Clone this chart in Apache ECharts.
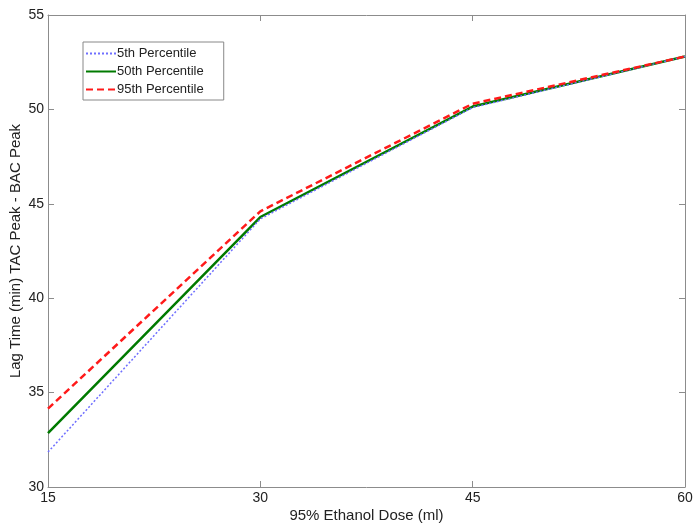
<!DOCTYPE html>
<html>
<head>
<meta charset="utf-8">
<script src="https://cdn.jsdelivr.net/npm/echarts@6/dist/echarts.min.js"></script>
<style>
  html, body { margin: 0; padding: 0; background: #fff; }
  #chart { width: 695px; height: 527px; }
</style>
</head>
<body>
<div id="chart"></div>
<script>
  // dose (ml) and lag time values
  const doses = [15, 30, 45, 60]
  const p5 = [31.85, 44.2, 50.1, 52.8]
  const p50 = [32.85, 44.3, 50.15, 52.8]
  const p95 = [34.15, 44.6, 50.3, 52.8]
  const seriesNames = ['5th Percentile', '50th Percentile', '95th Percentile']

  const pairs = arr => doses.map((d, i) => [d, arr[i]])

  const axisGray = '#8c8c8c'
  const font = 'Liberation Sans, Arial, sans-serif'

  const chart = echarts.init(document.getElementById('chart'))
  const option = {
    animation: false,
    textStyle: { fontFamily: font },
    grid: { left: 48, right: 10, top: 15, bottom: 40, outerBoundsMode: 'none' },
    legend: {
      orient: 'vertical',
      left: 83,
      top: 42,
      padding: [5, 20, 4, 2],
      itemGap: 5,
      itemWidth: 30,
      itemHeight: 13,
      borderColor: '#888',
      borderWidth: 1,
      itemStyle: { opacity: 0 },
      textStyle: { fontSize: 13, color: '#222', padding: [0, 0, 0, -4] },
      data: seriesNames
    },
    xAxis: [{
      type: 'value', min: 15, max: 60, interval: 15,
      name: '95% Ethanol Dose (ml)', nameLocation: 'middle', nameGap: 21,
      nameMoveOverlap: false,
      nameTextStyle: { fontSize: 15, color: '#222' },
      axisLine: { lineStyle: { color: axisGray } },
      axisTick: { inside: true, length: 6, lineStyle: { color: axisGray } },
      axisLabel: { fontSize: 14, color: '#222', margin: 4 },
      splitLine: { show: false }
    }, {
      type: 'value', min: 15, max: 60, interval: 15, position: 'top',
      axisLine: { lineStyle: { color: axisGray } },
      axisTick: { inside: true, length: 6, lineStyle: { color: axisGray } },
      axisLabel: { show: false },
      splitLine: { show: false }
    }],
    yAxis: [{
      type: 'value', min: 30, max: 55, interval: 5,
      name: 'Lag Time (min) TAC Peak - BAC Peak', nameLocation: 'middle', nameGap: 25,
      nameMoveOverlap: false,
      nameTextStyle: { fontSize: 15, color: '#222' },
      axisLine: { show: true, lineStyle: { color: axisGray } },
      axisTick: { show: true, inside: true, length: 6, lineStyle: { color: axisGray } },
      axisLabel: { fontSize: 14, color: '#222', margin: 4 },
      splitLine: { show: false }
    }, {
      type: 'value', min: 30, max: 55, interval: 5, position: 'right',
      axisLine: { show: true, lineStyle: { color: axisGray } },
      axisTick: { show: true, inside: true, length: 6, lineStyle: { color: axisGray } },
      axisLabel: { show: false },
      splitLine: { show: false }
    }],
    series: [
      {
        name: seriesNames[0], type: 'line', symbol: 'none', z: 3,
        data: pairs(p5),
        itemStyle: { color: '#6f6fff' },
        lineStyle: { color: '#6f6fff', width: 1.5, type: [2, 2] }
      },
      {
        name: seriesNames[1], type: 'line', symbol: 'none', z: 2,
        data: pairs(p50),
        itemStyle: { color: '#007a00' },
        lineStyle: { color: '#007a00', width: 2.5 }
      },
      {
        name: seriesNames[2], type: 'line', symbol: 'none', z: 4,
        data: pairs(p95),
        itemStyle: { color: '#ff1a1a' },
        lineStyle: { color: '#ff1a1a', width: 2.5, type: [7, 4] }
      }
    ]
  }
  chart.setOption(option)
</script>
</body>
</html>
